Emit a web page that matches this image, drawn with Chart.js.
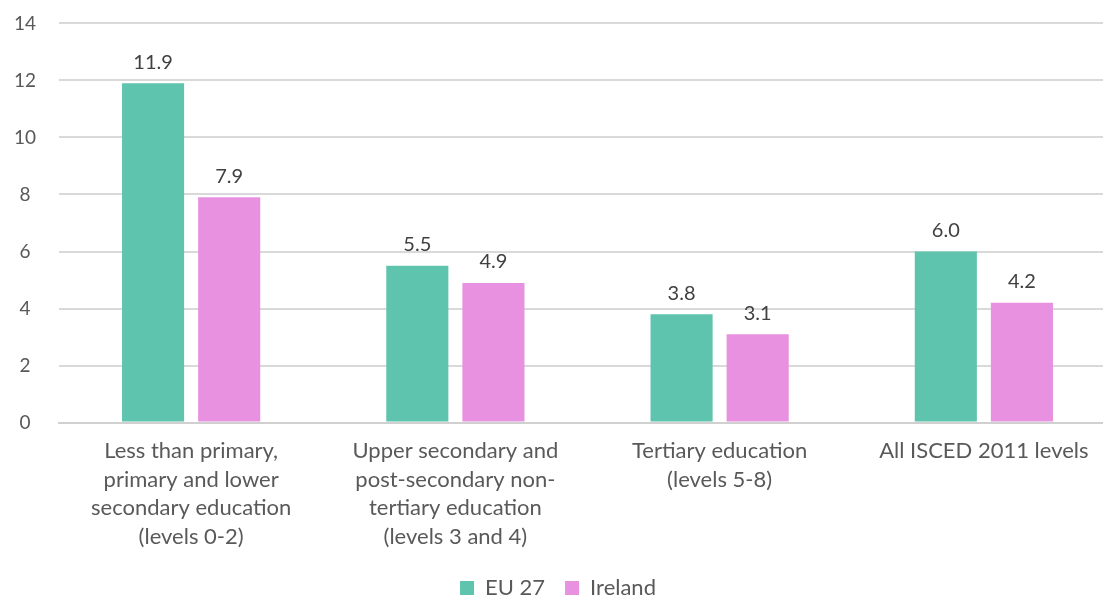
<!DOCTYPE html>
<html>
<head>
<meta charset="utf-8">
<script src="https://cdn.jsdelivr.net/npm/chart.js@4/dist/chart.umd.min.js"></script>
<style>
  html, body { margin: 0; padding: 0; background: #fff; overflow: hidden; }
  #janela { width: 1103px; height: 598px; overflow: hidden; position: relative; }
  #wrap { width: 1150px; height: 620px; position: absolute; left: 0; top: -11px; }
</style>
</head>
<body>
<div id="janela"><div id="wrap"><canvas id="grafico"></canvas></div></div>
<script>
// dados
const categorias = [
    ['Less than primary,', 'primary and lower', 'secondary education', '(levels 0-2)'],
    ['Upper secondary and', 'post-secondary non-', 'tertiary education', '(levels 3 and 4)'],
    ['Tertiary education', '(levels 5-8)'],
    ['All ISCED 2011 levels']
];
const valoresEU = [11.9, 5.5, 3.8, 6.0];
const valoresIrlanda = [7.9, 4.9, 3.1, 4.2];
const ticksY = [0, 2, 4, 6, 8, 10, 12, 14];

const fonte = 'Lato, "Open Sans", sans-serif';
const corTexto = '#595959';

// rótulos de valor acima das barras
const rotulosValor = {
    id: 'rotulosValor',
    afterDatasetsDraw(chart) {
        const ctx = chart.ctx;
        ctx.save();
        ctx.font = '20px ' + fonte;
        ctx.fillStyle = '#404040';
        ctx.textAlign = 'center';
        ctx.textBaseline = 'bottom';
        chart.data.datasets.forEach((ds, i) => {
            chart.getDatasetMeta(i).data.forEach((bar, j) => {
                ctx.fillText(ds.data[j].toFixed(1), bar.x, bar.y - 11);
            });
        });
        ctx.restore();
    }
};

new Chart(document.getElementById('grafico'), {
    type: 'bar',
    data: {
        labels: categorias,
        datasets: [
            {
                label: 'EU 27',
                data: valoresEU,
                backgroundColor: '#5fc4ad',
                barPercentage: 0.816,
                categoryPercentage: 0.576
            },
            {
                label: 'Ireland',
                data: valoresIrlanda,
                backgroundColor: '#e891e0',
                barPercentage: 0.816,
                categoryPercentage: 0.576
            }
        ]
    },
    options: {
        responsive: true,
        maintainAspectRatio: false,
        animation: false,
        layout: { padding: { top: 0, right: 34, left: 0, bottom: 0 } },
        plugins: {
            tooltip: { enabled: false },
            legend: {
                position: 'bottom',
                labels: {
                    boxWidth: 14,
                    boxHeight: 14,
                    padding: 20,
                    color: corTexto,
                    font: { family: fonte, size: 22 }
                }
            }
        },
        scales: {
            x: {
                grid: { display: false },
                border: { color: '#d0d0d0', width: 2 },
                ticks: {
                    color: corTexto,
                    font: { family: fonte, size: 22, lineHeight: 1.3 },
                    padding: 6,
                    maxRotation: 0,
                    autoSkip: false
                }
            },
            y: {
                min: 0,
                max: 14,
                afterBuildTicks(axis) {
                    axis.ticks = ticksY.map(v => ({ value: v }));
                },
                afterFit(axis) { axis.width = 59; },
                grid: { color: '#d9d9d9', lineWidth: 2, drawTicks: false },
                border: { display: false },
                ticks: {
                    color: corTexto,
                    font: { family: fonte, size: 19 },
                    padding: 23,
                    crossAlign: 'center'
                }
            }
        }
    },
    plugins: [rotulosValor]
});
</script>
</body>
</html>
